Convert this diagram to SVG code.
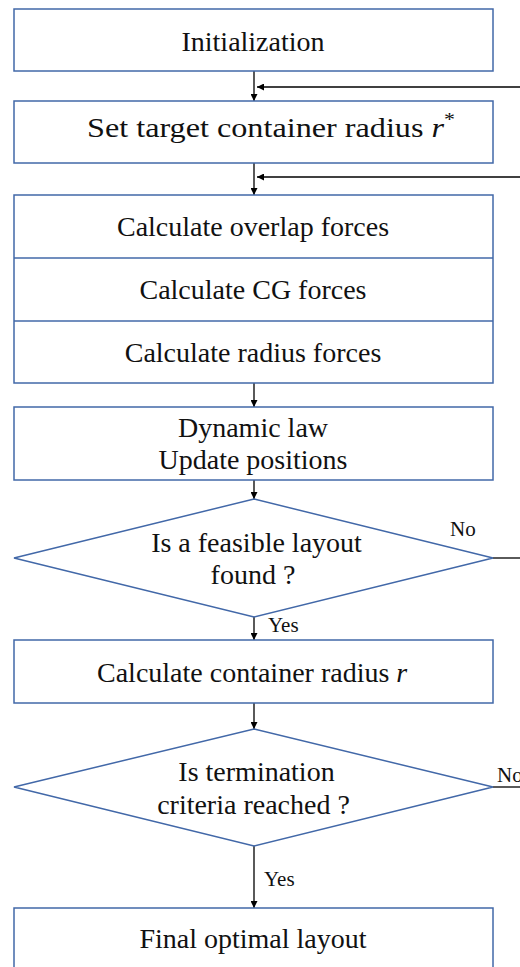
<svg xmlns="http://www.w3.org/2000/svg" width="520" height="967" viewBox="0 0 520 967">
<style>
.box{fill:#fff;stroke:#4268A8;stroke-width:1.5}
.t{font-family:"Liberation Serif","Times New Roman",serif;font-size:28px;fill:#111;text-anchor:middle}
.lbl{font-family:"Liberation Serif","Times New Roman",serif;font-size:21px;fill:#111}
.c{stroke:#000;stroke-width:1.3;fill:none}
</style>
<defs>
<marker id="ah" markerUnits="userSpaceOnUse" markerWidth="8" markerHeight="7" refX="7" refY="3.5" orient="auto">
<path d="M0,0 L7,3.5 L0,7 z" fill="#000"/>
</marker>
</defs>
<rect width="520" height="967" fill="#fff"/>
<g id="connectors">
<line class="c" x1="254" y1="71" x2="254" y2="101" marker-end="url(#ah)"/>
<line class="c" x1="520" y1="87" x2="257" y2="87" marker-end="url(#ah)"/>
<line class="c" x1="254" y1="163" x2="254" y2="195" marker-end="url(#ah)"/>
<line class="c" x1="520" y1="177" x2="257" y2="177" marker-end="url(#ah)"/>
<line class="c" x1="254" y1="383" x2="254" y2="407" marker-end="url(#ah)"/>
<line class="c" x1="254" y1="480" x2="254" y2="499" marker-end="url(#ah)"/>
<line class="c" x1="493" y1="558" x2="520" y2="558"/>
<line class="c" x1="254" y1="617" x2="254" y2="640" marker-end="url(#ah)"/>
<line class="c" x1="254" y1="703" x2="254" y2="729" marker-end="url(#ah)"/>
<line class="c" x1="493" y1="787" x2="520" y2="787"/>
<line class="c" x1="254" y1="846" x2="254" y2="908" marker-end="url(#ah)"/>
<text class="lbl" x="450" y="536">No</text>
<text class="lbl" x="268" y="632">Yes</text>
<text class="lbl" x="497" y="782">No</text>
<text class="lbl" x="264" y="886">Yes</text>
</g>
<g id="init">
<rect class="box" x="14" y="9" width="479" height="62"/>
<text class="t" x="253" y="51">Initialization</text>
</g>
<g id="target">
<rect class="box" x="14" y="101" width="479" height="62"/>
<text class="t" x="87" y="137" style="text-anchor:start" textLength="368" lengthAdjust="spacingAndGlyphs">Set target container radius <tspan font-style="italic">r</tspan><tspan dy="-11" font-size="19">*</tspan></text>
</g>
<g id="forces">
<rect class="box" x="14" y="195" width="479" height="188"/>
<line class="box" x1="14" y1="258" x2="493" y2="258"/>
<line class="box" x1="14" y1="321" x2="493" y2="321"/>
<text class="t" x="253" y="236">Calculate overlap forces</text>
<text class="t" x="253" y="299">Calculate CG forces</text>
<text class="t" x="253" y="361.5">Calculate radius forces</text>
</g>
<g id="dynamic">
<rect class="box" x="14" y="407" width="479" height="73"/>
<text class="t" x="253" y="437">Dynamic law</text>
<text class="t" x="253" y="469">Update positions</text>
</g>
<g id="feasible">
<polygon class="box" points="254,499 493,558 254,617 14,558"/>
<text class="t" x="256.5" y="552">Is a feasible layout</text>
<text class="t" x="253" y="584">found ?</text>
</g>
<g id="radius">
<rect class="box" x="14" y="640" width="479" height="63"/>
<text class="t" x="97" y="682" style="text-anchor:start">Calculate container radius <tspan font-style="italic">r</tspan></text>
</g>
<g id="termination">
<polygon class="box" points="254,729 493,787 254,846 14,787"/>
<text class="t" x="256.5" y="781">Is termination</text>
<text class="t" x="253.5" y="813.5">criteria reached ?</text>
</g>
<g id="final">
<rect class="box" x="14" y="908" width="479" height="80"/>
<text class="t" x="253" y="948">Final optimal layout</text>
</g>
</svg>
